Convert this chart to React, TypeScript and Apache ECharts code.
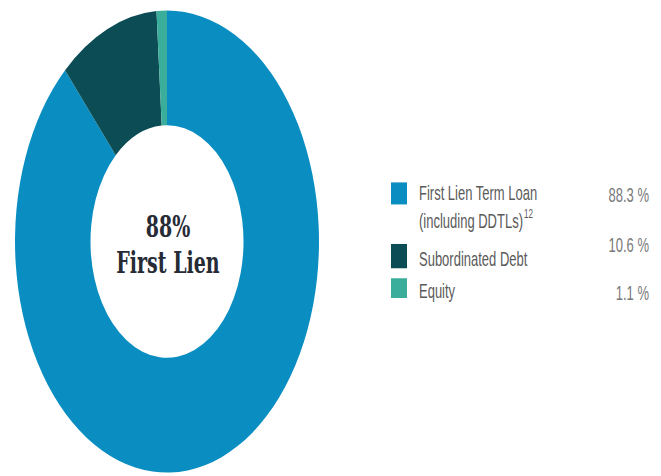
import React, { useEffect, useRef } from "react";
import * as echarts from "echarts";

const categories = ["First Lien Term Loan", "Subordinated Debt", "Equity"];
const legendLines = [["First Lien Term Loan", "(including DDTLs)"], ["Subordinated Debt"], ["Equity"]];
const superscripts = ["12", "", ""];
const values = [88.3, 10.6, 1.1];
const colors = ["#0a8ec2", "#0c4d55", "#3aad9b"];
const centerLines = ["88%", "First Lien"];

const STRETCH = 1.52;
const W = 661;
const H = 476 / STRETCH;

export default function App() {
  const ref = useRef<HTMLDivElement>(null);
  useEffect(() => {
    if (!ref.current) return;
    const chart = echarts.init(ref.current, null, { renderer: "svg" });
    const squareTops = [120, 160.5, 183];
    const squareHeights = [14.5, 16, 13];
    const labelYs = [[127, 146], [170.5], [192]];
    const valueYs = [128.3, 161.2, 192.8];
    const graphics: any[] = [];
    categories.forEach((c, i) => {
      graphics.push({
        type: "rect",
        shape: { x: 391, y: squareTops[i], width: 16, height: squareHeights[i] },
        style: { fill: colors[i] },
      });
      legendLines[i].forEach((line, j) => {
        const isLast = j === legendLines[i].length - 1;
        const sup = isLast ? superscripts[i] : "";
        graphics.push({
          type: "text",
          x: 419,
          y: labelYs[i][j],
          style: {
            text: sup ? `${line}{sup|${sup}}` : line,
            fill: "#5a5a5a",
            font: "13px 'Liberation Sans', Arial, sans-serif",
            verticalAlign: "middle",
            align: "left",
            rich: {
              sup: {
                fontSize: 8,
                fill: "#5a5a5a",
                fontFamily: "'Liberation Sans', Arial, sans-serif",
                padding: [0, 0, 10, 1],
              },
            },
          },
        });
      });
      graphics.push({
        type: "text",
        x: 649,
        y: valueYs[i],
        style: {
          text: `${values[i].toFixed(1)} %`,
          fill: "#7a7a7a",
          font: "13px 'Liberation Sans', Arial, sans-serif",
          align: "right",
          verticalAlign: "middle",
        },
      });
    });
    centerLines.forEach((t, i) => {
      graphics.push({
        type: "text",
        x: 168,
        y: 149 + i * 24,
        style: {
          text: t,
          fill: "#262b36",
          font: "bold 19px 'DejaVu Serif', Georgia, serif",
          align: "center",
          verticalAlign: "middle",
        },
      });
    });

    chart.setOption({
      animation: false,
      backgroundColor: "#ffffff",
      series: [
        {
          type: "pie",
          center: [167, 158.9],
          radius: [76.5, 152],
          startAngle: 90,
          clockwise: true,
          label: { show: false },
          labelLine: { show: false },
          emphasis: { disabled: true },
          itemStyle: { borderWidth: 0 },
          data: categories.map((c, i) => ({ name: c, value: values[i], itemStyle: { color: colors[i] } })),
        },
      ],
      graphic: graphics,
    });
    return () => chart.dispose();
  }, []);
  return (
    <div style={{ position: "absolute", left: 0, top: 0, width: W, height: 476, overflow: "hidden", background: "#fff" }}>
      <div
        ref={ref}
        style={{ width: W, height: H, transform: `scaleY(${STRETCH})`, transformOrigin: "0 0" }}
      />
    </div>
  );
}
